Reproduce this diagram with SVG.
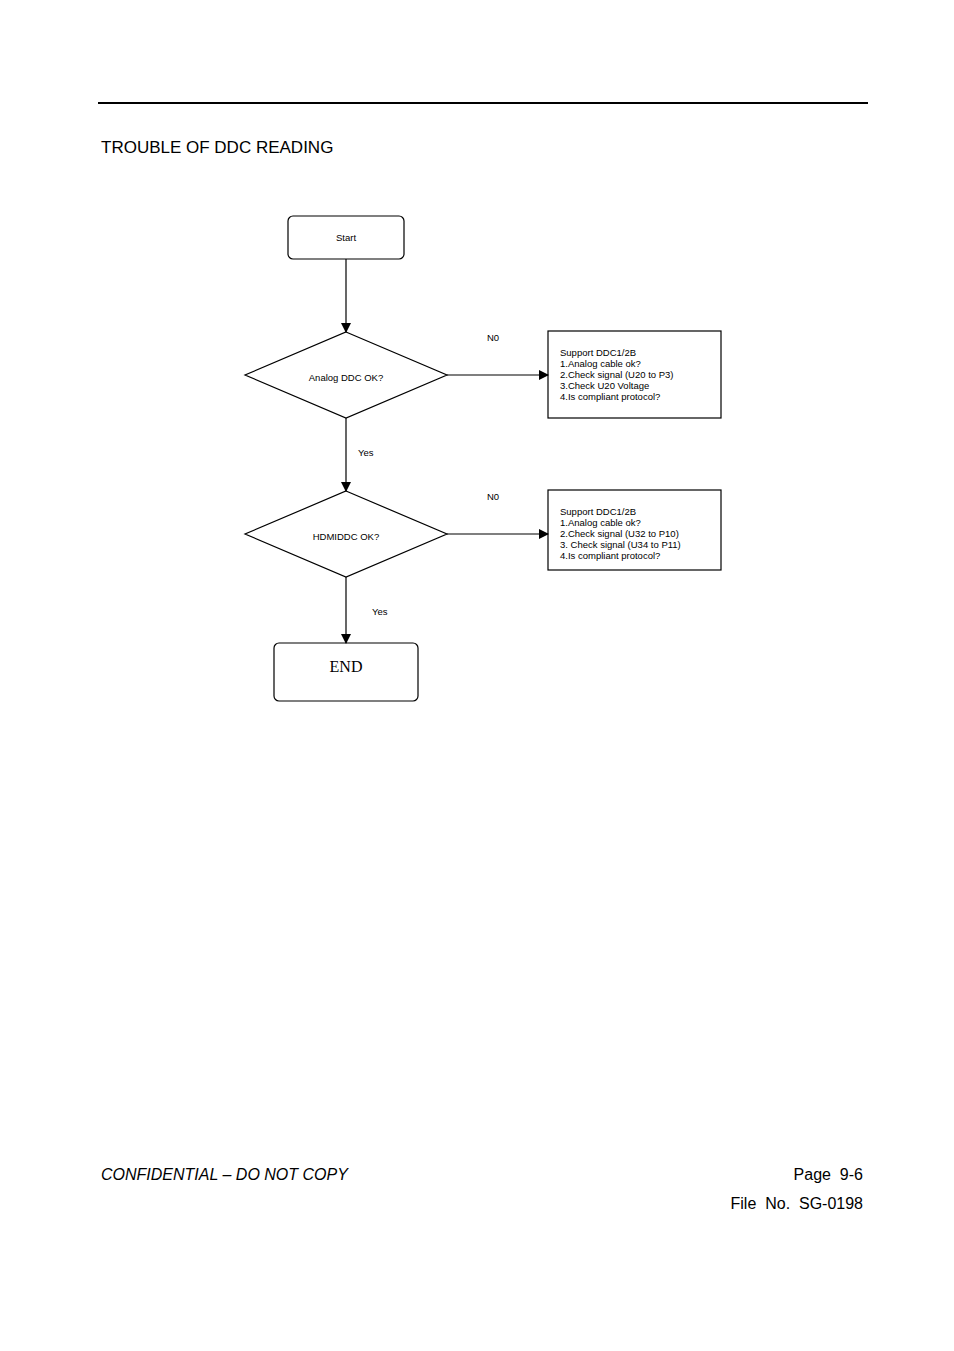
<svg xmlns="http://www.w3.org/2000/svg" width="954" height="1351" viewBox="0 0 954 1351">
<style>
.s{fill:#fff;stroke:#000;stroke-width:1.2}
.t{font-family:"Liberation Sans",Arial,sans-serif;font-size:9.5px;fill:#000}
.c{stroke:#000;stroke-width:1.2;fill:none}
</style>
<defs><marker id="a" markerWidth="10" markerHeight="10" refX="9" refY="5" orient="auto" markerUnits="userSpaceOnUse"><path d="M0,0 L10,5 L0,10 Z" fill="#000"/></marker></defs>
<rect width="954" height="1351" fill="#fff"/>
<line x1="98" y1="103" x2="868" y2="103" stroke="#000" stroke-width="2"/>
<text x="101" y="153" font-family="Liberation Sans,Arial,sans-serif" font-size="17">TROUBLE OF DDC READING</text>
<g id="start"><rect class="s" x="288" y="216" width="116" height="43" rx="5"/><text class="t" x="346" y="241" text-anchor="middle">Start</text></g>
<g id="d1"><polygon class="s" points="346,332 447,375 346,418 245,375"/><text class="t" x="346" y="381" text-anchor="middle">Analog DDC OK?</text></g>
<g id="b1"><rect class="s" x="548" y="331" width="173" height="87"/><text class="t" x="560" y="356">Support DDC1/2B</text><text class="t" x="560" y="367">1.Analog cable ok?</text><text class="t" x="560" y="378">2.Check signal (U20 to P3)</text><text class="t" x="560" y="389">3.Check U20 Voltage</text><text class="t" x="560" y="400">4.Is compliant protocol?</text></g>
<g id="d2"><polygon class="s" points="346,491 447,534 346,577 245,534"/><text class="t" x="346" y="540" text-anchor="middle">HDMIDDC OK?</text></g>
<g id="b2"><rect class="s" x="548" y="490" width="173" height="80"/><text class="t" x="560" y="515">Support DDC1/2B</text><text class="t" x="560" y="526">1.Analog cable ok?</text><text class="t" x="560" y="537">2.Check signal (U32 to P10)</text><text class="t" x="560" y="548">3. Check signal (U34 to P11)</text><text class="t" x="560" y="559">4.Is compliant protocol?</text></g>
<g id="end"><rect class="s" x="274" y="643" width="144" height="58" rx="5"/><text x="346" y="672" text-anchor="middle" font-family="Liberation Serif,serif" font-size="16">END</text></g>
<g id="connectors">
<line class="c" x1="346" y1="259" x2="346" y2="332" marker-end="url(#a)"/>
<line class="c" x1="447" y1="375" x2="548" y2="375" marker-end="url(#a)"/>
<line class="c" x1="346" y1="418" x2="346" y2="491" marker-end="url(#a)"/>
<line class="c" x1="447" y1="534" x2="548" y2="534" marker-end="url(#a)"/>
<line class="c" x1="346" y1="577" x2="346" y2="643" marker-end="url(#a)"/>
<text class="t" x="487" y="341">N0</text>
<text class="t" x="487" y="500">N0</text>
<text class="t" x="358" y="456">Yes</text>
<text class="t" x="372" y="615">Yes</text>
</g>
<text x="101" y="1180" font-family="Liberation Sans,Arial,sans-serif" font-size="16" font-style="italic">CONFIDENTIAL – DO NOT COPY</text>
<text x="863" y="1180" text-anchor="end" font-family="Liberation Sans,Arial,sans-serif" font-size="16" xml:space="preserve">Page  9-6</text>
<text x="863" y="1209" text-anchor="end" font-family="Liberation Sans,Arial,sans-serif" font-size="16" xml:space="preserve">File  No.  SG-0198</text>
</svg>
